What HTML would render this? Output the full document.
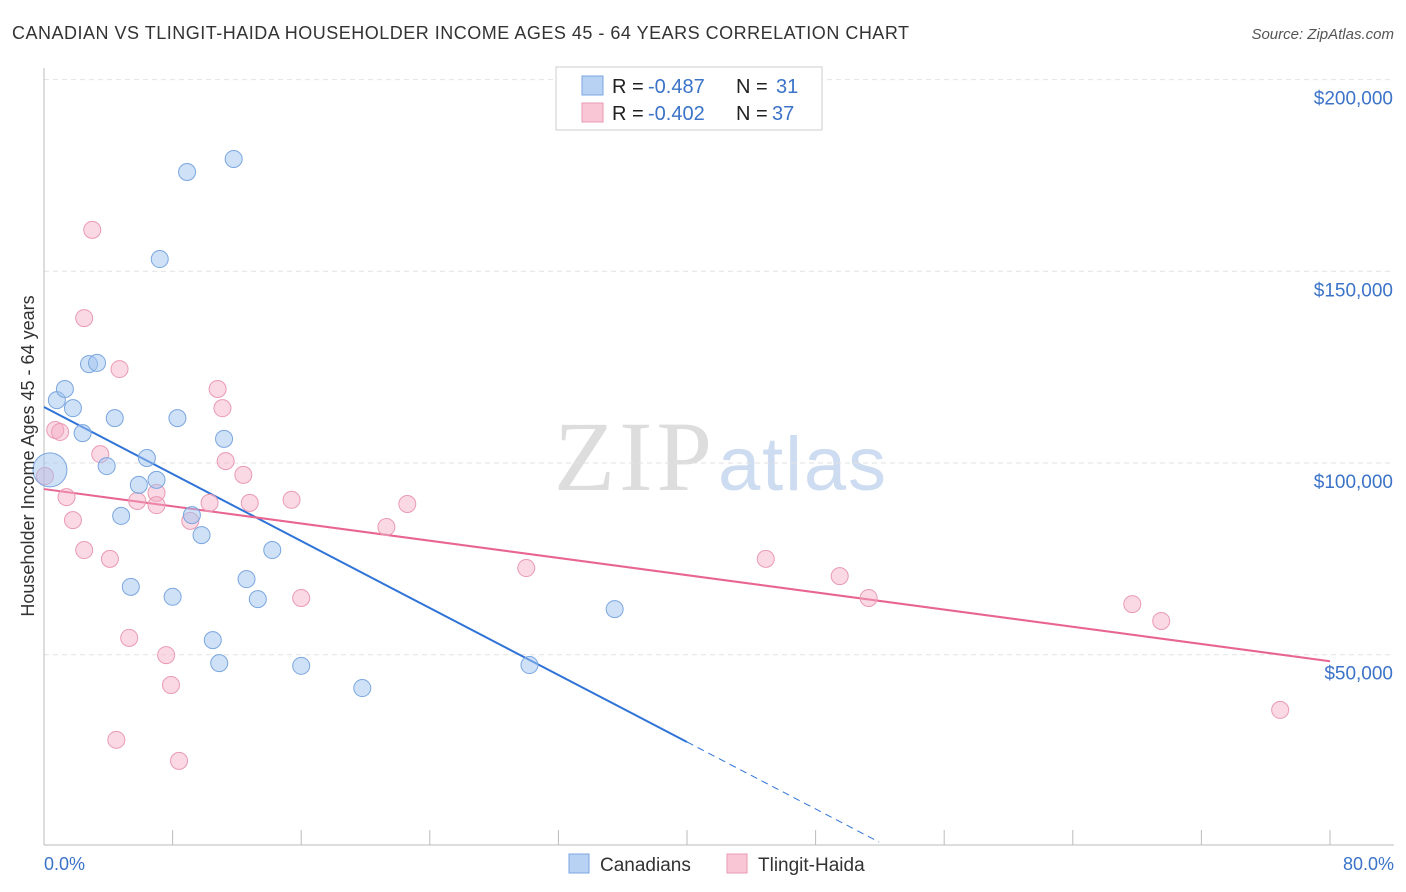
<!DOCTYPE html>
<html><head><meta charset="utf-8"><style>
body{margin:0;background:#fff;font-family:"Liberation Sans",sans-serif;}
svg{display:block}
</style></head><body>
<svg id="chart" width="1406" height="892">
<text x="12" y="39" font-size="18" fill="#333" textLength="897">CANADIAN VS TLINGIT-HAIDA HOUSEHOLDER INCOME AGES 45 - 64 YEARS CORRELATION CHART</text>
<text x="1394" y="39" font-size="15" fill="#555" font-style="italic" text-anchor="end">Source: ZipAtlas.com</text>
<text x="554" y="490" font-size="100" fill="#ddd" textLength="158" font-family="Liberation Serif,serif">ZIP</text>
<text x="718" y="490" font-size="76" fill="#cddcf0" textLength="168">atlas</text>
<g id="grid"></g><g id="axes"></g><g id="lines"></g><g id="pts"></g>
<text transform="translate(34,456) rotate(-90)" font-size="18" fill="#333" text-anchor="middle">Householder Income Ages 45 - 64 years</text>
<text x="44" y="870" font-size="18" fill="#3b73c8">0.0%</text>
<text x="1394" y="870" font-size="18" fill="#3b73c8" text-anchor="end">80.0%</text>
<g>
<rect x="556" y="67" width="266" height="63" fill="#fff" stroke="#ccc"/>
<rect x="582" y="76" width="21" height="19" fill="#b8d2f3" stroke="#7aa6e0"/>
<rect x="582" y="103" width="21" height="19" fill="#f9c6d5" stroke="#ea9ab3"/>
<text x="612" y="93" font-size="20" fill="#222">R = </text><text x="648" y="93" font-size="20" fill="#3b73c8">-0.487</text>
<text x="736" y="93" font-size="20" fill="#222">N = </text><text x="776" y="93" font-size="20" fill="#3b73c8">31</text>
<text x="612" y="120" font-size="20" fill="#222">R = </text><text x="648" y="120" font-size="20" fill="#3b73c8">-0.402</text>
<text x="736" y="120" font-size="20" fill="#222">N = </text><text x="772" y="120" font-size="20" fill="#3b73c8">37</text>
</g>
<g>
<rect x="569" y="854" width="20" height="19" fill="#b8d2f3" stroke="#7aa6e0"/>
<text x="600" y="871" font-size="19" fill="#333">Canadians</text>
<rect x="727" y="854" width="20" height="19" fill="#f9c6d5" stroke="#ea9ab3"/>
<text x="758" y="871" font-size="19" fill="#333">Tlingit-Haida</text>
</g>
</svg>
<script>
const yTicks=[50000,100000,150000,200000];
const yTickLabels=["$50,000","$100,000","$150,000","$200,000"];
const canX=[0.37,0.8,1.3,1.8,2.4,2.8,3.3,3.9,4.4,4.8,5.4,5.9,6.4,7.0,7.2,8.0,8.3,8.9,9.2,9.8,10.5,10.9,11.2,11.8,12.6,13.3,14.2,16.0,19.8,30.2,35.5];
const canY=[98200,116400,119300,114300,107800,125800,126100,99200,111700,86200,67700,94300,101300,95600,153200,65100,111700,175900,86400,81200,53800,47800,106300,179300,69700,64500,77300,47100,41300,47300,61900];
const tliX=[0.06,0.7,1.0,1.4,1.8,2.5,2.5,3.0,3.5,4.1,4.5,4.7,5.3,5.8,7.0,7.0,7.6,7.9,8.4,9.1,10.3,10.8,11.1,11.3,12.4,12.8,15.4,16.0,21.3,22.6,30.0,44.9,49.5,51.3,67.7,69.5,76.9];
const tliY=[96600,108600,108100,91100,85100,137800,77300,160800,102300,75000,27800,124500,54400,90100,92200,89000,49900,42100,22300,84900,89600,119300,114300,100500,96900,89600,90400,64800,83300,89300,72600,75000,70500,64800,63200,58800,35600];
const canTrend=[114600,27240]; // at 0% and 40%
const tliTrend=[93200,48300];  // at 0% and 80%
const NS="http://www.w3.org/2000/svg";
const X=p=>44+p*16.075;
const Y=v=>463-(v-100000)*191.7/50000;
function mk(par,tag,at){const e=document.createElementNS(NS,tag);for(const k in at)e.setAttribute(k,at[k]);document.getElementById(par).appendChild(e);return e;}
yTicks.forEach((t,i)=>{
 const g=mk('grid','line',{x1:44,x2:1394,y1:Y(t),y2:Y(t),stroke:'#e2e2e2','stroke-dasharray':'5,4'});
 
 
 const l=mk('grid','text',{x:1393,y:Y(t)+25,'font-size':19,fill:'#3b73c8','text-anchor':'end'});
 l.textContent=yTickLabels[i];
 
 
});
const ax=mk('axes','line',{x1:44,x2:44,y1:68,y2:845,stroke:'#bbb'});


const bx=mk('axes','line',{x1:44,x2:1394,y1:845,y2:845,stroke:'#bbb'});


for(let i=0;i<=10;i++){const t=mk('axes','line',{x1:X(i*8),x2:X(i*8),y1:830,y2:845,stroke:'#bbb'});
 
 }
let l1=mk('lines','line',{x1:X(0),y1:Y(canTrend[0]),x2:X(40),y2:Y(canTrend[1]),stroke:'#2f73d8','stroke-width':2});


const slope=(canTrend[1]-canTrend[0])/40, xe=40+(Y(canTrend[1])<842?(( (463-842)*50000/191.7+100000 - canTrend[1])/slope):0);
let l2=mk('lines','line',{x1:X(40),y1:Y(canTrend[1]),x2:X(xe),y2:Y(canTrend[1]+slope*(xe-40)),stroke:'#2f73d8','stroke-width':1,'stroke-dasharray':'7,5'});


let l3=mk('lines','line',{x1:X(0),y1:Y(tliTrend[0]),x2:X(80),y2:Y(tliTrend[1]),stroke:'#e8658f','stroke-width':2});


tliX.forEach((x,i)=>{const c=mk('pts','circle',{cx:X(x),cy:Y(tliY[i]),r:8.5,fill:'rgba(245,170,195,0.45)',stroke:'#ea9ab3','stroke-width':1});
 
 });
canX.forEach((x,i)=>{const c=mk('pts','circle',{cx:X(x),cy:Y(canY[i]),r:i===0?17:8.5,fill:'rgba(160,195,240,0.5)',stroke:'#7aa6e0','stroke-width':1});
 
 });
</script>
</body></html>
